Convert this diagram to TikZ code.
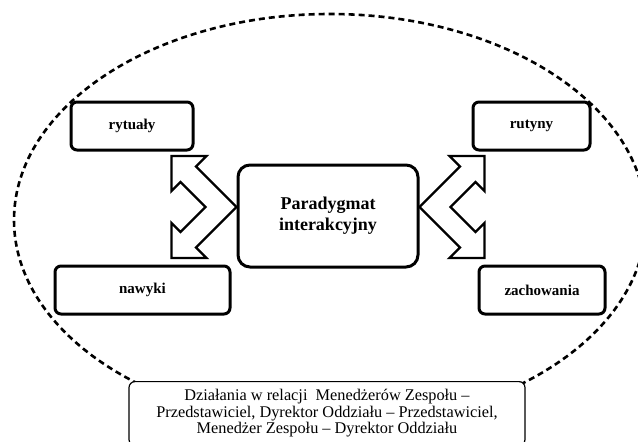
\documentclass[tikz,border=0pt]{standalone}
\usepackage{fontspec}
\setmainfont{Liberation Serif}
\begin{document}
\begin{tikzpicture}[x=1pt,y=-1pt,
  frame/.style={draw=black,line width=3pt,rounded corners=6pt,fill=white,
    font=\fontsize{15}{17}\selectfont\bfseries,inner sep=0pt,align=center},
  corebox/.style={frame,rounded corners=12pt,font=\fontsize{18}{21}\selectfont\bfseries},
  notebox/.style={draw=black,line width=1.2pt,rounded corners=6pt,fill=white,
    font=\fontsize{16.3}{16.5}\selectfont,align=center,inner xsep=4pt,inner ysep=8pt},
  ring/.style={draw=black,line width=2.6pt,dash pattern=on 6pt off 4pt},
  blockarrow/.style={draw=black,line width=2.3pt,fill=white,line join=miter},
  pics/bentarrow/.style={code={
    \path[blockarrow] (-65,-51) -- (-30,-51) -- (-40.5,-40.5) -- (0,0)
      -- (-40.5,40.5) -- (-30,51) -- (-65,51) -- (-65,16) -- (-56,25)
      -- (-31,0) -- (-56,-25) -- (-65,-16) -- cycle;
  }}]
\useasboundingbox (0,0) rectangle (638,442);
\clip (0,0) rectangle (638,442);

% dashed boundary of the whole field
\path[ring] (330,220) ellipse [x radius=316pt, y radius=206pt];

% central concept
\node[corebox,minimum width=180pt,minimum height=102pt] (core) at (328,216)
  {Paradygmat\\interakcyjny};

% surrounding elements
\node[frame,minimum width=122pt,minimum height=48pt] (ryt) at (132,126) {rytuały};
\node[frame,minimum width=117pt,minimum height=48pt] (rut) at (531.5,126) {rutyny};
\node[frame,minimum width=175pt,minimum height=48pt] (naw) at (142.5,290) {nawyki};
\node[frame,minimum width=126pt,minimum height=48pt] (zach) at (542,290) {zachowania};

% bent two-way arrows touching the central box
\coordinate (lv) at ([yshift=9pt]core.west);
\coordinate (rv) at ([yshift=9pt]core.east);
\pic at (lv) {bentarrow};
\pic[xscale=-1] at (rv) {bentarrow};

% relations box at the bottom
\node[notebox,anchor=north,minimum width=396pt] (rel) at (327,381)
  {Działania w relacji\ \ Menedżerów Zespołu –\\
   Przedstawiciel, Dyrektor Oddziału – Przedstawiciel,\\
   Menedżer Zespołu – Dyrektor Oddziału};
\end{tikzpicture}
\end{document}
